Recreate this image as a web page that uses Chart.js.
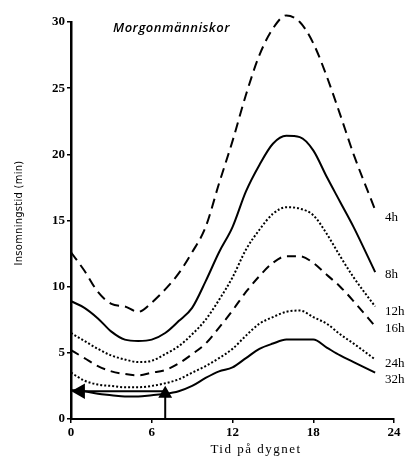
<!DOCTYPE html>
<html>
<head>
<meta charset="utf-8">
<script src="https://cdn.jsdelivr.net/npm/chart.js@4/dist/chart.umd.min.js"></script>
<style>
  html, body { margin: 0; padding: 0; background: #fff; }
  #wrap { width: 413px; height: 462px; }
</style>
</head>
<body>
<div id="wrap"><canvas id="c"></canvas></div>
<script>
// Insomningstid över dygnet, morgonmänniskor
const seriesNames = ['4h', '8h', '12h', '16h', '24h', '32h'];
const hours = [0, 1, 2, 3, 4, 5, 6, 7, 8, 9, 10, 11, 12, 13, 14, 15, 16, 17, 18, 19, 20, 21, 22.6];
const v4h  = [12.6, 11.2, 9.6, 8.7, 8.5, 8.1, 8.8, 9.8, 11.0, 12.6, 14.5, 17.8, 21.0, 24.5, 27.5, 29.5, 30.5, 30.0, 28.4, 25.9, 23.0, 20.0, 15.8];
const v8h  = [8.9, 8.4, 7.6, 6.6, 6.0, 5.9, 6.0, 6.5, 7.4, 8.4, 10.4, 12.6, 14.5, 17.2, 19.2, 20.8, 21.4, 21.3, 20.3, 18.3, 16.4, 14.5, 11.1];
const v12h = [6.5, 5.9, 5.3, 4.8, 4.5, 4.3, 4.4, 4.9, 5.5, 6.4, 7.5, 9.0, 10.7, 12.8, 14.3, 15.5, 16.0, 15.9, 15.4, 14.0, 12.3, 10.7, 8.5];
const v16h = [5.2, 4.6, 4.0, 3.6, 3.4, 3.3, 3.5, 3.7, 4.2, 4.9, 5.7, 6.9, 8.2, 9.6, 10.8, 11.8, 12.3, 12.3, 11.8, 10.9, 10.0, 8.9, 7.0];
const v24h = [3.5, 2.9, 2.6, 2.5, 2.4, 2.4, 2.5, 2.7, 3.0, 3.5, 4.0, 4.6, 5.3, 6.3, 7.2, 7.7, 8.1, 8.2, 7.7, 7.2, 6.4, 5.7, 4.5];
const v32h = [2.2, 2.1, 1.9, 1.8, 1.7, 1.7, 1.8, 1.9, 2.1, 2.5, 3.1, 3.6, 3.9, 4.6, 5.3, 5.7, 6.0, 6.0, 6.0, 5.4, 4.8, 4.3, 3.5];
const labelValues = [15.2, 10.9, 8.1, 6.8, 4.2, 3.0]; // där etiketterna står
const xTicks = [0, 6, 12, 18, 24];
const yTicks = [0, 5, 10, 15, 20, 25, 30];
const arrowH = [{x: 7, y: 2.1}, {x: 0.7, y: 2.1}];
const arrowV = [{x: 7, y: 0}, {x: 7, y: 1.9}];

const serif = "'Liberation Serif', serif";
const allValues = [v4h, v8h, v12h, v16h, v24h, v32h];
const dashes = [[10, 6], [], [2, 2], [9, 6], [2, 2], []];

function pts(vals) { return vals.map((v, i) => ({x: hours[i], y: v})); }

const datasets = allValues.map((vals, i) => ({
  label: seriesNames[i],
  data: pts(vals),
  borderColor: '#000',
  borderWidth: 2,
  borderDash: dashes[i],
  pointRadius: 0,
  tension: 0.4,
  cubicInterpolationMode: 'monotone',
  fill: false,
  clip: false
}));
datasets.push({
  label: 'pilH', data: arrowH, borderColor: '#000', backgroundColor: '#000', borderWidth: 2,
  pointRadius: [0, 7], pointStyle: 'triangle', rotation: [0, -90], tension: 0, clip: false
});
datasets.push({
  label: 'pilV', data: arrowV, borderColor: '#000', backgroundColor: '#000', borderWidth: 2,
  pointRadius: [0, 6], pointStyle: 'triangle', rotation: 0, tension: 0, clip: false
});

const textPlugin = {
  id: 'texts',
  afterDraw(chart) {
    const {ctx, scales: {x, y}} = chart;
    ctx.save();
    ctx.fillStyle = '#000';
    // kurvetiketter
    ctx.font = '13px ' + serif;
    ctx.textAlign = 'left';
    ctx.textBaseline = 'middle';
    seriesNames.forEach((n, i) => {
      ctx.fillText(n, 385, y.getPixelForValue(labelValues[i]));
    });
    // rubrik
    ctx.font = "italic 600 13px 'Open Sans', sans-serif";
    ctx.letterSpacing = '0.5px';
    ctx.fillText('Morgonmänniskor', 113, 28);
    // axeltitlar
    ctx.font = '13px ' + serif;
    ctx.letterSpacing = '1.5px';
    ctx.textAlign = 'center';
    ctx.fillText('Tid på dygnet', 256, 450);
    ctx.translate(19, 213);
    ctx.rotate(-Math.PI / 2);
    ctx.font = "11px 'DejaVu Sans Condensed', sans-serif";
    ctx.letterSpacing = '0.3px';
    ctx.fillText('Insomningstid (min)', 0, 0);
    ctx.restore();
  }
};

new Chart(document.getElementById('c'), {
  type: 'line',
  data: { datasets },
  options: {
    responsive: true,
    maintainAspectRatio: false,
    animation: false,
    layout: { padding: { top: 22, right: 19, left: 0, bottom: 0 } },
    plugins: { legend: { display: false }, tooltip: { enabled: false } },
    scales: {
      x: {
        type: 'linear', min: 0, max: 24,
        afterBuildTicks: s => { s.ticks = xTicks.map(v => ({value: v})); },
        afterFit: s => { s.height = 43; },
        border: { color: '#000', width: 2 },
        grid: { drawOnChartArea: false, drawTicks: true, tickLength: 4, color: '#000', lineWidth: 1.5 },
        ticks: { color: '#000', font: { family: serif, size: 13, weight: 'bold' }, padding: 2, maxRotation: 0 }
      },
      y: {
        min: 0, max: 30,
        afterBuildTicks: s => { s.ticks = yTicks.map(v => ({value: v})); },
        afterFit: s => { s.width = 71; },
        border: { color: '#000', width: 2.5 },
        grid: { drawOnChartArea: false, drawTicks: true, tickLength: 4, color: '#000', lineWidth: 1.5 },
        ticks: { color: '#000', font: { family: serif, size: 13, weight: 'bold' }, padding: 2 }
      }
    }
  },
  plugins: [textPlugin]
});
</script>
</body>
</html>
